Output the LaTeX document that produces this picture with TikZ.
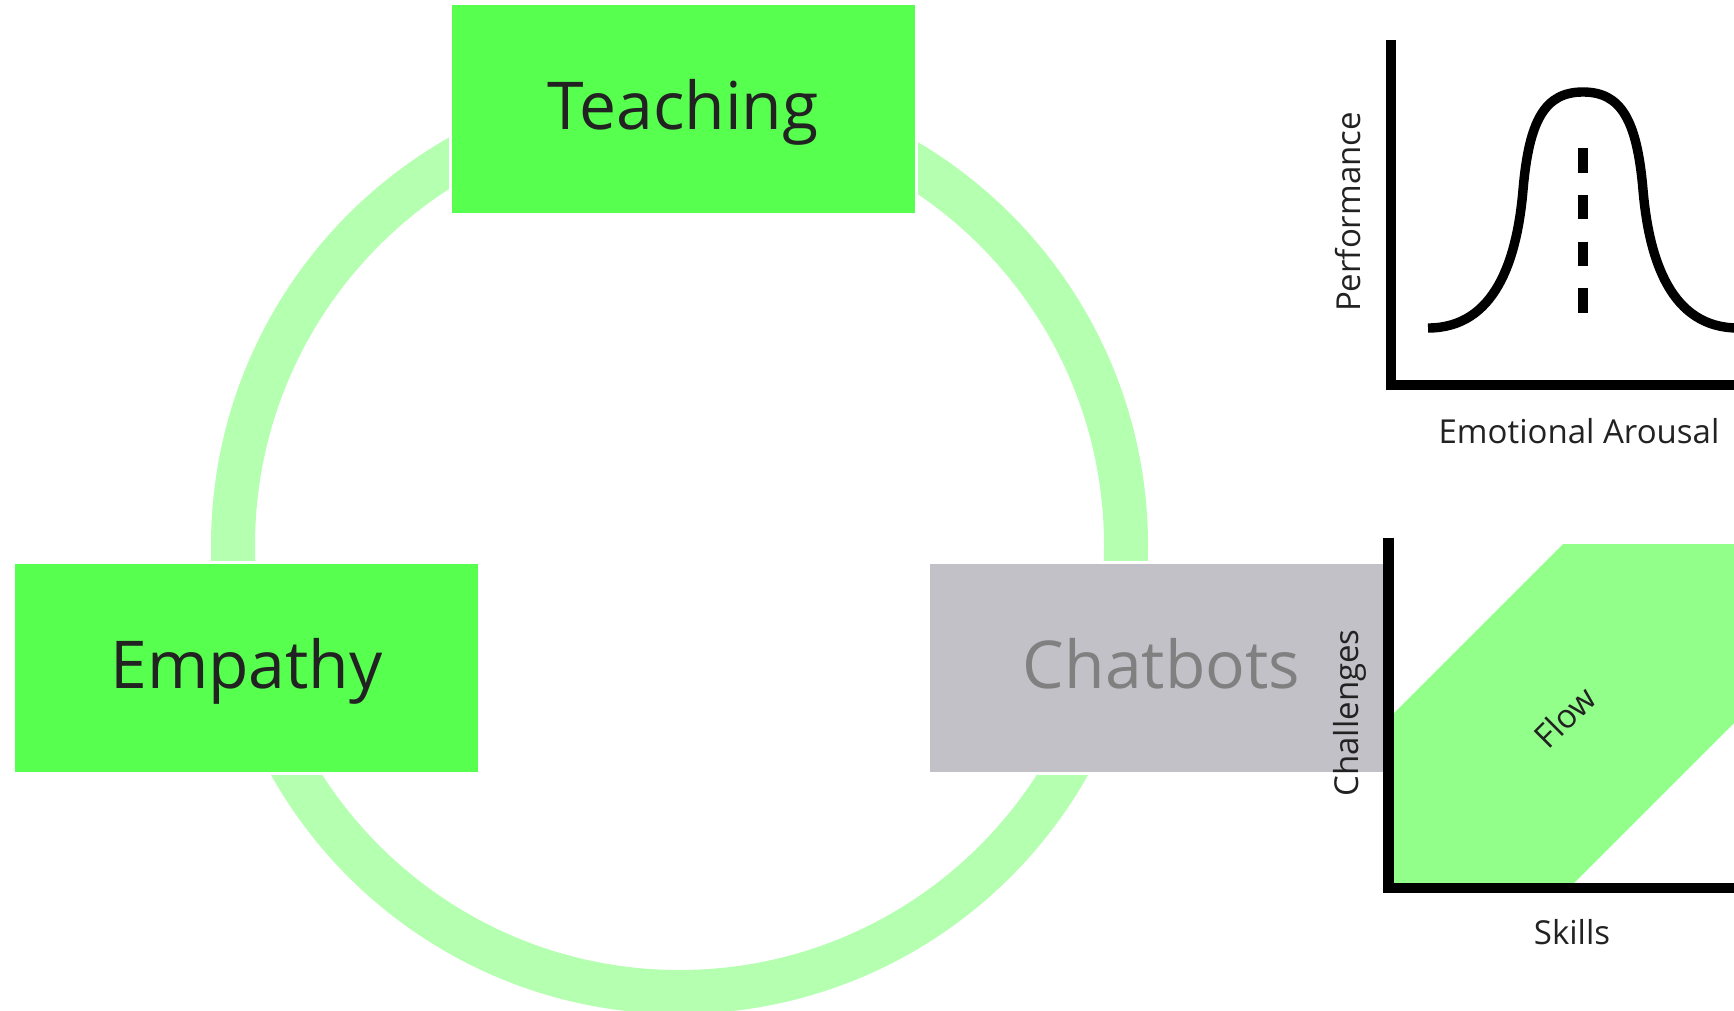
\documentclass[tikz,border=0pt]{standalone}
\usepackage{fontspec}
\setmainfont{Open Sans}
\definecolor{boxgreen}{RGB}{87,255,79}
\definecolor{ringgreen}{RGB}{180,255,176}
\definecolor{flowgreen}{RGB}{147,255,139}
\definecolor{boxgray}{RGB}{194,193,199}
\definecolor{textgray}{RGB}{128,128,128}
\definecolor{ink}{RGB}{34,34,34}

\begin{document}
\begin{tikzpicture}[x=0.5pt,y=-0.5pt,
      topic/.style={draw=white,line width=1.5pt,inner sep=0pt,minimum width=233pt,minimum height=105.5pt,
         text height=24pt,text depth=3.5pt,font=\fontsize{33}{40}\selectfont,text=ink},
      axislabel/.style={font=\fontsize{16.5}{20}\selectfont,text=ink,inner sep=0pt},
      axisline/.style={line width=5.3pt}]
         \useasboundingbox (0,0) rectangle (1734,1011);

         \draw[ringgreen,line width=22pt] (679.5,545.5) circle[radius=223.25pt];

         \node[topic,fill=boxgreen] at (683,109) (T) {Teaching};
         \node[topic,fill=boxgreen] at (246.5,668) (E) {Empathy};
         \node[topic,fill=boxgray,text=textgray] at (1161.5,668) (C) {Chatbots};

         \draw[axisline] (1391,40) -- (1391,385) -- (1740,385);
         \draw[line width=4.7pt] (1428,328) .. controls (1495,328) and (1517,260) .. (1523,190)
            .. controls (1529,120) and (1545,92) .. (1583,92)
            .. controls (1621,92) and (1637,120) .. (1643,190)
            .. controls (1649,260) and (1671,328) .. (1738,328);
         \draw[line width=5.3pt,dash pattern=on 12.25pt off 11.15pt] (1583,148) -- (1583,313);
         \node[axislabel,rotate=90] at (1348,212) (P) {Performance};
         \node[axislabel] at (1579,431) (A) {Emotional Arousal};

         \fill[flowgreen] (1388,719) -- (1563,544) -- (1740,544) -- (1740,717) -- (1574,883) -- (1388,883) -- cycle;
         \draw[axisline] (1388.5,538) -- (1388.5,888) -- (1740,888);
         \node[axislabel,rotate=45] at (1565,717) (F) {Flow};
         \node[axislabel,rotate=90] at (1350,713) (H) {Challenges};
         \node[axislabel] at (1572,932) (S) {Skills};
      \end{tikzpicture}
\end{document}
